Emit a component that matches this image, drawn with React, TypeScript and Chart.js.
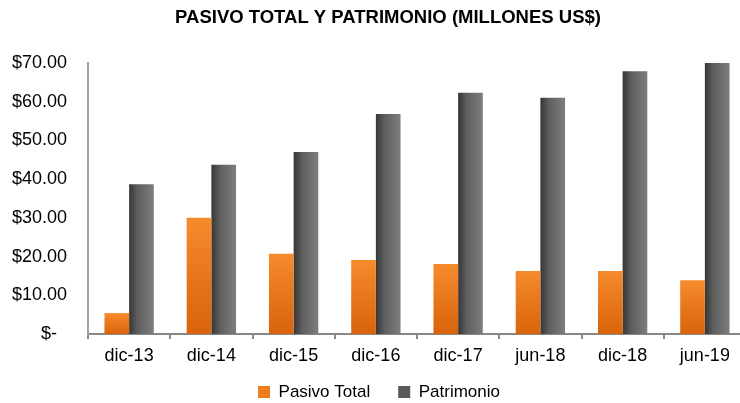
import React, { useEffect, useRef } from "react";
import { Chart, registerables } from "chart.js";

Chart.register(...registerables);

const titleText = "PASIVO TOTAL Y PATRIMONIO (MILLONES US$)";
const categories = ["dic-13", "dic-14", "dic-15", "dic-16", "dic-17", "jun-18", "dic-18", "jun-19"];
const pasivoTotal = [5.4, 30.0, 20.7, 19.1, 18.1, 16.3, 16.3, 13.9];
const patrimonio = [38.7, 43.7, 47.0, 56.8, 62.3, 61.0, 67.9, 70.0];
const yTicks = [0, 10, 20, 30, 40, 50, 60, 70];
const seriesNames = ["Pasivo Total", "Patrimonio"];

const FONT = "'Liberation Sans', Arial, sans-serif";

function orangeFill(ctx: any) {
  const chart = ctx.chart;
  const yScale = chart.scales?.y;
  if (!yScale || ctx.type !== "data") return "#EC7A1E";
  const v = ctx.raw as number;
  const top = yScale.getPixelForValue(v);
  const bottom = yScale.getPixelForValue(0);
  if (!isFinite(top) || !isFinite(bottom) || bottom - top < 1) return "#EC7A1E";
  const g = chart.ctx.createLinearGradient(0, top, 0, bottom);
  g.addColorStop(0, "#F68B2C");
  g.addColorStop(1, "#D8630B");
  return g;
}

function grayFill(ctx: any) {
  const chart = ctx.chart;
  const xScale = chart.scales?.x;
  if (!xScale || ctx.type !== "data") return "#5E5E5E";
  const center = xScale.getPixelForValue(ctx.dataIndex);
  const catW = (xScale.width || 0) / categories.length;
  const w = (catW * 0.6) / 2;
  if (!isFinite(center) || w < 1) return "#5E5E5E";
  const g = chart.ctx.createLinearGradient(center, 0, center + w, 0);
  g.addColorStop(0, "#363636");
  g.addColorStop(0.35, "#5F5F5F");
  g.addColorStop(1, "#7E7E7E");
  return g;
}

const layoutTweaks = {
  id: "layoutTweaks",
  beforeLayout(chart: any) {
    const lg = chart.legend;
    if (lg && !lg.__patched) {
      const orig = lg.fit.bind(lg);
      lg.fit = () => {
        orig();
        lg.height = 30.4;
      };
      lg.__patched = true;
    }
  },
  afterLayout(chart: any) {
    const t = chart.titleBlock;
    if (t) {
      t.left = 30;
    }
    const lg = chart.legend;
    if (lg) {
      lg.top = 355.5;
      lg.bottom = 403;
    }
  },
};

export default function App() {
  const ref = useRef<HTMLCanvasElement | null>(null);

  useEffect(() => {
    if (!ref.current) return;
    const chart = new Chart(ref.current, {
      type: "bar",
      data: {
        labels: categories,
        datasets: [
          {
            label: seriesNames[0],
            data: pasivoTotal,
            backgroundColor: orangeFill as any,
            borderWidth: 0,
            categoryPercentage: 0.6,
            barPercentage: 1,
          },
          {
            label: seriesNames[1],
            data: patrimonio,
            backgroundColor: grayFill as any,
            borderWidth: 0,
            categoryPercentage: 0.6,
            barPercentage: 1,
          },
        ],
      },
      plugins: [layoutTweaks],
      options: {
        animation: false,
        responsive: false,
        maintainAspectRatio: false,
        layout: { padding: { left: 12, right: 2, top: 0, bottom: 0 } },
        plugins: {
          title: {
            display: true,
            text: titleText,
            color: "#000",
            font: { family: FONT, size: 18.5, weight: "bold" },
            padding: { top: 7, bottom: 33.8 },
          },
          legend: {
            position: "bottom",
            labels: {
              color: "#000",
              font: { family: FONT, size: 17 },
              boxWidth: 12,
              boxHeight: 12,
              padding: 28,
              generateLabels: () =>
                [
                  { text: seriesNames[0], fillStyle: "#EE7B1E", strokeStyle: "#EE7B1E", lineWidth: 0, datasetIndex: 0, hidden: false },
                  { text: seriesNames[1], fillStyle: "#5A5A5A", strokeStyle: "#5A5A5A", lineWidth: 0, datasetIndex: 1, hidden: false },
                ] as any,
            },
          },
          tooltip: { enabled: false },
        },
        scales: {
          x: {
            grid: {
              display: true,
              drawOnChartArea: false,
              drawTicks: true,
              tickLength: 5,
              color: "#878787",
              lineWidth: 2,
              offset: true,
            },
            border: { display: true, color: "#878787", width: 2 },
            ticks: {
              color: "#000",
              font: { family: FONT, size: 18 },
              padding: 6,
              maxRotation: 0,
            },
          },
          y: {
            min: 0,
            max: 70,
            afterBuildTicks: (scale: any) => {
              scale.ticks = yTicks.map((v) => ({ value: v }));
            },
            afterFit: (scale: any) => {
              scale.width = 76;
            },
            grid: { display: false, drawTicks: false },
            border: { display: true, color: "#A3A3A3", width: 2 },
            ticks: {
              color: "#000",
              font: { family: FONT, size: 18 },
              padding: 21,
              callback: (v: any) => (Number(v) === 0 ? "$-  " : "$" + Number(v).toFixed(2)),
            },
          },
        },
      },
    });
    return () => chart.destroy();
  }, []);

  return (
    <div style={{ position: "fixed", left: 0, top: 0, width: 748, height: 403, background: "#fff" }}>
      <canvas ref={ref} width={748} height={403} style={{ width: 748, height: 403, display: "block" }} />
    </div>
  );
}
